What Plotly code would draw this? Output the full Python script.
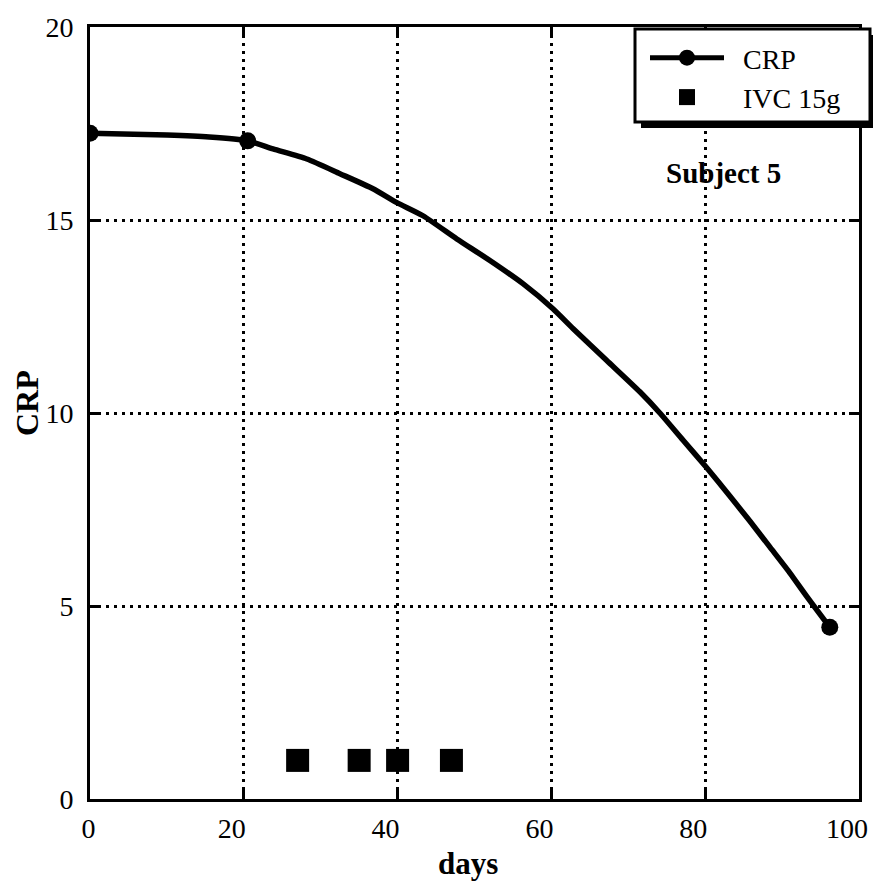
import plotly.graph_objects as go

# CRP curve (days, value)
crp_days = [0, 10, 15.5, 20.5, 23.8, 28.2, 32.5, 36.8, 39.9, 43.3, 47.7, 52.0,
            56.3, 60.2, 62.8, 67.2, 71.5, 74.1, 77.1, 80.2, 83.2, 85.8, 88.4,
            91.0, 93.2, 96.2]
crp_vals = [17.25, 17.2, 17.15, 17.05, 16.84, 16.58, 16.20, 15.81, 15.45, 15.11,
            14.51, 13.95, 13.35, 12.7, 12.19, 11.36, 10.55, 10.0, 9.3, 8.58,
            7.85, 7.2, 6.53, 5.86, 5.25, 4.45]
# days with a measured CRP value (drawn with a marker)
crp_marked_days = [0, 20.5, 96.2]
crp_marked_vals = [17.25, 17.05, 4.45]

# IVC 15g infusions
ivc_days = [27, 35, 40, 47]
ivc_vals = [1, 1, 1, 1]

x_ticks = [0, 20, 40, 60, 80, 100]
y_ticks = [0, 5, 10, 15, 20]
# labels are shifted left of their tick; the 0 label is padded back over its tick
x_ticktext = ["\u00a0\u00a0\u00a00"] + [str(v) for v in x_ticks[1:]]

FONT = "Liberation Serif"

# page has an 8px body margin; plot area wanted at these screen pixels
OFF = 8
W, H = 881 - 2 * OFF, 892 - 2 * OFF
L, R, T, B = 90, 859, 27, 799
def px(x):
    return (x - L) / (R - L)
def py(y):
    return (B - y) / (B - T)

fig = go.Figure()
fig.add_trace(go.Scatter(x=crp_days, y=crp_vals, mode="lines",
                         line=dict(color="black", width=5.5, shape="spline", smoothing=0.6),
                         showlegend=False, hoverinfo="skip"))
fig.add_trace(go.Scatter(x=crp_marked_days, y=crp_marked_vals, mode="markers",
                         marker=dict(color="black", size=17, symbol="circle"),
                         showlegend=False))
# legend entry for CRP (line + marker)
fig.add_trace(go.Scatter(x=[None], y=[None], mode="lines+markers",
                         name="\u00a0\u00a0CRP",
                         line=dict(color="black", width=5),
                         marker=dict(color="black", size=17)))
fig.add_trace(go.Scatter(x=ivc_days, y=ivc_vals, mode="markers",
                         name="\u00a0\u00a0IVC 15g",
                         marker=dict(color="black", size=23, symbol="square")))

axis_style = dict(showline=True, linecolor="black", linewidth=3, mirror="ticks",
                  ticks="inside", ticklen=10, tickwidth=3, tickcolor="black",
                  showgrid=True, gridcolor="black", gridwidth=2.5,
                  griddash="3px,5px", zeroline=False, automargin=False,
                  ticklabeloverflow="allow",
                  tickfont=dict(family=FONT, size=28, color="black"))

fig.update_xaxes(range=[0, 100], tickvals=x_ticks, ticktext=x_ticktext,
                 ticklabelshift=-12, ticklabelstandoff=2, **axis_style)
fig.update_yaxes(range=[0, 20], tickvals=y_ticks, ticklabelstandoff=8, **axis_style)

fig.update_layout(
    width=W, height=H,
    margin=dict(l=L - OFF, r=W + OFF - R, t=T - OFF, b=H + OFF - B),
    paper_bgcolor="white", plot_bgcolor="white",
    font=dict(family=FONT, color="black"),
    showlegend=True,
    legend=dict(x=px(645), y=py(33), xanchor="left", yanchor="top",
                bgcolor="rgba(0,0,0,0)", borderwidth=0, itemwidth=74,
                font=dict(family=FONT, size=28, color="black")),
    shapes=[
        dict(type="rect", xref="paper", yref="paper", x0=px(641), x1=px(876),
             y0=py(128), y1=py(35), fillcolor="black", line=dict(width=0)),
        dict(type="rect", xref="paper", yref="paper", x0=px(635), x1=px(870),
             y0=py(122), y1=py(29), fillcolor="white",
             line=dict(color="black", width=3)),
    ],
    annotations=[
        dict(text="<b>Subject 5</b>", x=px(723), y=py(173), xref="paper", yref="paper",
             xanchor="center", yanchor="middle",
             showarrow=False, font=dict(family=FONT, size=29)),
        dict(text="<b>CRP</b>", x=px(27), y=py(403), xref="paper", yref="paper",
             xanchor="center", yanchor="middle",
             textangle=-90, showarrow=False, font=dict(family=FONT, size=32)),
        dict(text="<b>days</b>", x=px(468), y=py(863), xref="paper", yref="paper",
             xanchor="center", yanchor="middle",
             showarrow=False, font=dict(family=FONT, size=31)),
    ],
)

fig.write_html("out.html")
